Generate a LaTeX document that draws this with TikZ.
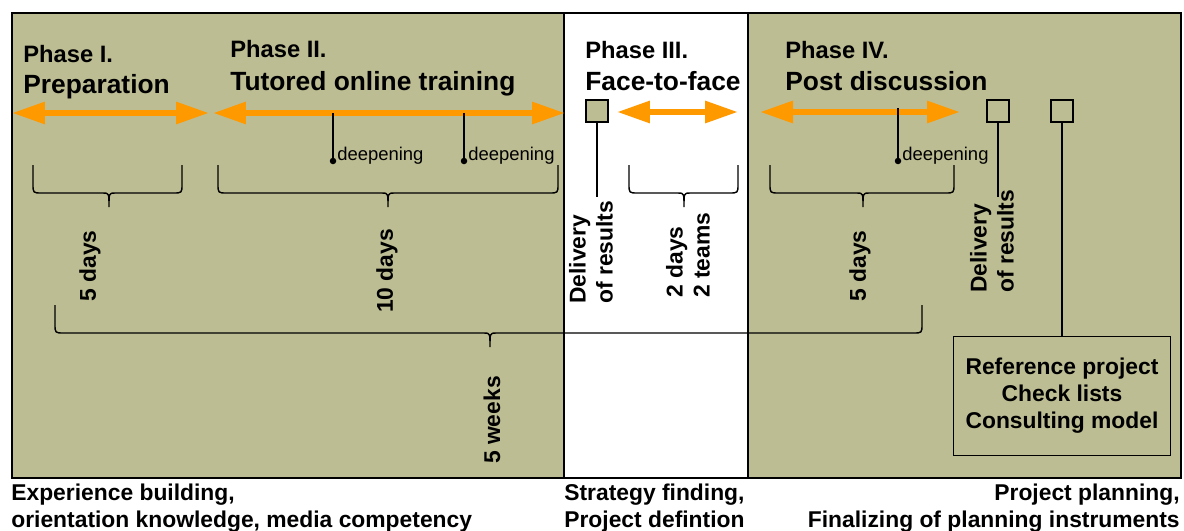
\documentclass[tikz,border=0pt]{standalone}
\usepackage{fontspec}
\setmainfont{Liberation Sans}
\usetikzlibrary{arrows.meta}
\definecolor{olivebg}{RGB}{189,189,148}
\definecolor{spanorange}{RGB}{255,153,0}

\begin{document}
\begin{tikzpicture}[x=0.02cm,y=-0.02cm,
  phase/.style={anchor=base west,inner sep=0,font=\fontsize{13.5}{16}\selectfont\bfseries},
  phasename/.style={anchor=base west,inner sep=0,font=\fontsize{15}{18}\selectfont\bfseries},
  span/.style={spanorange,line width=0.12cm,{Triangle[length=0.66cm,width=0.42cm]}-{Triangle[length=0.66cm,width=0.42cm]}},
  bracket/.style={line width=0.8pt},
  link/.style={line width=0.9pt},
  dur/.style={rotate=90,inner sep=0,font=\fontsize{13}{15.3}\selectfont\bfseries},
  milestone/.style={draw,fill=olivebg,line width=0.9pt,minimum size=0.44cm,inner sep=0},
  note/.style={anchor=base west,inner sep=0,font=\fontsize{10.5}{12}\selectfont},
  dot/.style={circle,fill=black,inner sep=0,minimum size=0.13cm},
  info/.style={inner sep=0,font=\fontsize{13}{15.3}\selectfont\bfseries}
]
\useasboundingbox (0,0) rectangle (1184,531);

% panels
\fill[olivebg] (12,13) rectangle (1181,478);
\fill[white] (564,13) rectangle (748,478);
\draw[line width=0.9pt] (12,13) rectangle (1181,478);
\draw[line width=0.9pt] (564,13) -- (564,478) (748,13) -- (748,478);

% phase titles
\node[phase] (ph1) at (23,62) {Phase I.};
\node[phasename] (nm1) at (23,93) {Preparation};
\node[phase] (ph2) at (230,57) {Phase II.};
\node[phasename] (nm2) at (230,90) {Tutored online training};
\node[phase] (ph3) at (585,58) {Phase III.};
\node[phasename] (nm3) at (585,90) {Face-to-face};
\node[phase] (ph4) at (785,58) {Phase IV.};
\node[phasename] (nm4) at (785,90) {Post discussion};

% time spans
\draw[span] (12,113) -- (209,113);
\draw[span] (213,113) -- (565,113);
\draw[span] (617,112) -- (738,112);
\draw[span] (760,112) -- (960,112);

% deepening marks
\foreach \i/\x/\y in {1/333/113,2/464/113,3/898/108}{
  \coordinate (dp\i) at (\x,\y);
  \node[dot] (k\i) at (\x,161) {};
  \draw[link] (dp\i) -- (k\i.center);
  \node[note] (n\i) at (\x+4,160) {deepening};
}

% braces
\foreach \a/\m/\b/\t/\u in {33/109/182/165/193,218/388/558/165/193,629/684/738/165/193,770/863/954/165/193,55/490/922/305/333}
  \draw[bracket] (\a,\t) -- (\a,\u-9) .. controls (\a,\u) .. (\a+9,\u) -- (\m-6,\u)
    .. controls (\m,\u) .. (\m,\u+14) .. controls (\m,\u) .. (\m+6,\u)
    -- (\b-9,\u) .. controls (\b,\u) .. (\b,\u-9) -- (\b,\t);

% durations
\node[dur] (d1) at (90,266) {5 days};
\node[dur] (d2) at (387,271) {10 days};
\node[dur] (d5) at (492,420) {5 weeks};
\node[dur] (d4) at (860,266) {5 days};
\node[dur,align=left,anchor=west] (f2f) at (688,298) {2 days\\2 teams};

% milestones
\node[milestone] (m1) at (597,111) {};
\node[milestone] (m2) at (998,111) {};
\node[milestone] (m3) at (1062,111) {};
\coordinate (e1) at (597,197);
\coordinate (e2) at (998,197);
\draw[link] (m1) -- (e1);
\draw[link] (m2) -- (e2);
\node[dur,align=left,anchor=west] (del1) at (591,304) {Delivery\\of results};
\node[dur,align=left,anchor=west] (del2) at (992,293) {Delivery\\of results};

\node[info,draw,fill=olivebg,line width=0.9pt,align=center,minimum width=4.34cm,minimum height=2.38cm] (refbox) at (1062,396) {Reference project\\Check lists\\Consulting model};
\draw[link] (m3) -- (refbox);

% outcomes
\node[info,anchor=base west] (o1) at (11,500) {Experience building,};
\node[info,anchor=base west] (o2) at (11,527) {orientation knowledge, media competency};
\node[info,anchor=base west] (o3) at (564,500) {Strategy finding,};
\node[info,anchor=base west] (o4) at (564,527) {Project defintion};
\node[info,anchor=base east] (o5) at (1180,500) {Project planning,};
\node[info,anchor=base east] (o6) at (1180,527) {Finalizing of planning instruments};
\end{tikzpicture}
\end{document}
